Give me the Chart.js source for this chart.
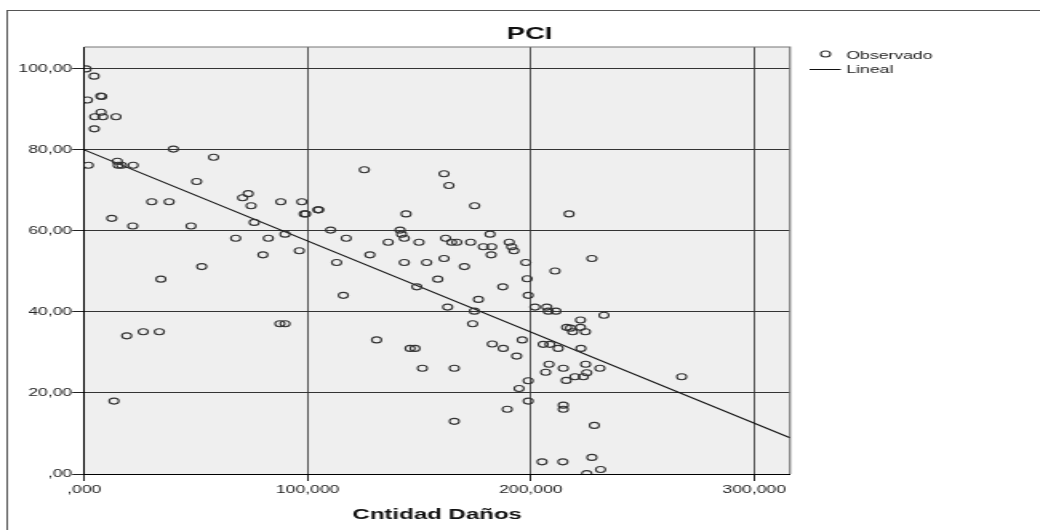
<!DOCTYPE html>
<html>
<head>
<meta charset="utf-8">
<script src="https://cdn.jsdelivr.net/npm/chart.js@4.4.1/dist/chart.umd.min.js"></script>
<style>
  html, body { margin: 0; padding: 0; background: #fff; }
  #pci { display: block; }
</style>
</head>
<body>
<!-- drawn 650 wide and shown 1040 wide, so everything is stretched sideways -->
<canvas id="pci" width="650" height="530" style="width:1040px;height:530px"></canvas>
<script>
// Observed points: Cntidad Daños (x) vs PCI (y)
const obsX = [
  0.8, 4.4, 1.4, 7.4, 7.8, 7.5, 4.7, 8.3, 14.2, 4.5,
  39.9, 57.9, 1.8, 14.8, 15.2, 16.7, 21.9, 50.3, 30.2, 38.0,
  70.9, 73.4, 74.7, 88.0, 97.4, 98.5, 99.1, 104.6, 105.0, 12.3,
  21.7, 47.8, 76.1, 110.3, 117.3, 67.8, 82.4, 89.9, 96.3, 80.0,
  125.4, 161.1, 163.3, 174.8, 217.1, 144.1, 141.4, 142.1, 143.3, 136.1,
  149.9, 161.8, 164.5, 166.8, 173.0, 181.7, 178.7, 182.4, 190.3, 191.4,
  192.4, 127.9, 227.3, 161.1, 113.0, 143.3, 153.3, 170.2, 182.2, 197.7,
  210.8, 158.3, 187.4, 198.3, 148.9, 116.0, 176.5, 198.8, 162.7, 174.7,
  201.8, 207.1, 207.8, 211.2, 232.7, 173.9, 222.2, 216.0, 217.7, 218.7,
  222.2, 224.4, 130.9, 145.9, 148.1, 182.7, 187.6, 196.1, 193.6, 205.5,
  208.5, 212.2, 222.4, 151.4, 165.7, 208.1, 206.6, 214.5, 224.5, 230.9,
  219.7, 223.5, 225.0, 215.8, 198.8, 194.7, 198.8, 214.5, 214.5, 189.4,
  165.7, 228.4, 205.0, 214.3, 227.3, 231.2, 225.0, 267.5, 52.6, 34.3,
  19.0, 26.4, 33.6, 87.6, 89.9, 13.3
];
const obsY = [
  100.0, 98.2, 92.3, 93.3, 93.2, 89.3, 88.2, 88.2, 88.2, 85.2,
  80.2, 78.2, 76.2, 77.2, 76.2, 76.2, 76.2, 72.2, 67.2, 67.2,
  68.2, 69.2, 66.2, 67.2, 67.2, 64.2, 64.2, 65.2, 65.2, 63.1,
  61.2, 61.2, 62.1, 60.2, 58.2, 58.2, 58.2, 59.2, 55.1, 54.1,
  75.1, 74.1, 71.2, 66.2, 64.2, 64.2, 60.2, 59.2, 58.2, 57.2,
  57.2, 58.2, 57.2, 57.2, 57.2, 59.2, 56.1, 56.1, 57.2, 56.1,
  55.1, 54.1, 53.2, 53.2, 52.2, 52.2, 52.2, 51.2, 54.1, 52.2,
  50.1, 48.1, 46.2, 48.2, 46.2, 44.1, 43.1, 44.1, 41.2, 40.2,
  41.2, 41.2, 40.2, 40.2, 39.2, 37.1, 38.0, 36.2, 36.0, 35.1,
  36.2, 35.1, 33.1, 31.0, 31.0, 32.1, 31.0, 33.1, 29.1, 32.0,
  32.0, 31.0, 31.0, 26.1, 26.1, 27.1, 25.1, 26.1, 27.1, 26.1,
  24.0, 24.0, 25.0, 23.1, 23.0, 21.1, 18.0, 17.0, 16.0, 16.0,
  13.0, 12.0, 3.0, 3.0, 4.1, 1.1, 0.1, 24.0, 51.2, 48.1,
  34.1, 35.1, 35.1, 37.1, 37.1, 18.0
];

// Fitted linear trend, end points
const lineX = [0, 316];
const lineY = [80.0, 8.96];

const xTickValues = [0, 100, 200, 300];
const xTickLabels = [',000', '100,000', '200,000', '300,000'];
const yTickValues = [0, 20, 40, 60, 80, 100];
const yTickLabels = [',00', '20,00', '40,00', '60,00', '80,00', '100,00'];

const FONT = "'Liberation Sans', Arial, sans-serif";
Chart.defaults.font.family = FONT;
Chart.defaults.color = '#222';

const observed = obsX.map((x, i) => ({ x: x, y: obsY[i] }));
const fitted = lineX.map((x, i) => ({ x: x, y: lineY[i] }));

// Background, outer frame, title and legend
const decorations = {
  id: 'decorations',
  beforeDraw(chart) {
    const { ctx, chartArea: a } = chart;
    ctx.save();
    ctx.fillStyle = '#fff';
    ctx.fillRect(0, 0, chart.width, chart.height);
    ctx.strokeStyle = '#555';
    ctx.lineWidth = 1;
    ctx.strokeRect(4.5, 10.5, chart.width + 20, chart.height + 20);
    ctx.fillStyle = '#efefef';
    ctx.fillRect(a.left, a.top, a.right - a.left, a.bottom - a.top);
    ctx.restore();
  },
  beforeDatasetsDraw(chart) {
    const { ctx, chartArea: a } = chart;
    ctx.save();
    ctx.strokeStyle = '#777';
    ctx.lineWidth = 1.2;
    ctx.beginPath();
    ctx.moveTo(a.left, a.top);
    ctx.lineTo(a.right, a.top);
    ctx.lineTo(a.right, a.bottom);
    ctx.stroke();
    ctx.restore();
  },
  afterDraw(chart) {
    const { ctx } = chart;
    const ds = chart.data.datasets;
    ctx.save();
    ctx.fillStyle = '#111';
    ctx.textAlign = 'center';
    ctx.textBaseline = 'middle';
    ctx.font = 'bold 17px ' + FONT;
    ctx.fillText('PCI', 331, 34);

    // legend
    ctx.font = '11px ' + FONT;
    ctx.textAlign = 'left';
    ctx.fillStyle = '#222';
    ctx.strokeStyle = '#333';
    ctx.lineWidth = 1.1;
    ctx.beginPath();
    ctx.arc(516, 54, 3, 0, Math.PI * 2);
    ctx.stroke();
    ctx.fillText(ds[0].label, 529, 55.5);
    ctx.strokeStyle = '#111';
    ctx.lineWidth = 1;
    ctx.beginPath();
    ctx.moveTo(506, 69.5);
    ctx.lineTo(525.5, 69.5);
    ctx.stroke();
    ctx.fillText(ds[1].label, 529, 70);
    ctx.restore();
  }
};

new Chart(document.getElementById('pci'), {
  type: 'scatter',
  data: {
    datasets: [
      {
        label: 'Observado',
        data: observed,
        pointStyle: 'circle',
        pointRadius: 3,
        pointBorderWidth: 1.1,
        pointBorderColor: '#333',
        pointBackgroundColor: 'rgba(0,0,0,0)',
        pointHoverRadius: 3,
        clip: 0
      },
      {
        label: 'Lineal',
        type: 'line',
        data: fitted,
        showLine: true,
        borderColor: '#111',
        borderWidth: 1.1,
        pointRadius: 0,
        fill: false,
        clip: 0
      }
    ]
  },
  options: {
    responsive: false,
    animation: false,
    events: [],
    layout: { padding: { top: 47, right: 156.25, left: 0, bottom: 0 } },
    plugins: {
      legend: { display: false },
      title: { display: false },
      tooltip: { enabled: false }
    },
    scales: {
      x: {
        type: 'linear',
        min: 0,
        max: 316,
        afterBuildTicks: s => { s.ticks = xTickValues.map(v => ({ value: v })); },
        afterFit: s => { s.height = 56; },
        ticks: {
          callback: v => xTickLabels[xTickValues.indexOf(v)],
          font: { size: 11 },
          color: '#222',
          padding: 2,
          maxRotation: 0,
          autoSkip: false
        },
        grid: { color: '#555', lineWidth: 1, tickLength: 7, tickColor: '#222' },
        border: { color: '#000', width: 1 },
        title: {
          display: true,
          text: 'Cntidad Daños',
          color: '#111',
          font: { size: 15, weight: 'bold' },
          padding: { top: 6, bottom: 6 }
        }
      },
      y: {
        type: 'linear',
        min: 0,
        max: 105.4,
        afterBuildTicks: s => { s.ticks = yTickValues.map(v => ({ value: v })); },
        afterFit: s => { s.width = 52.7; },
        ticks: {
          callback: v => yTickLabels[yTickValues.indexOf(v)],
          font: { size: 11 },
          color: '#222',
          padding: 0
        },
        grid: { color: '#333', lineWidth: 1, tickLength: 7.5, tickColor: '#222' },
        border: { color: '#000', width: 1 }
      }
    }
  },
  plugins: [decorations]
});
</script>
</body>
</html>
